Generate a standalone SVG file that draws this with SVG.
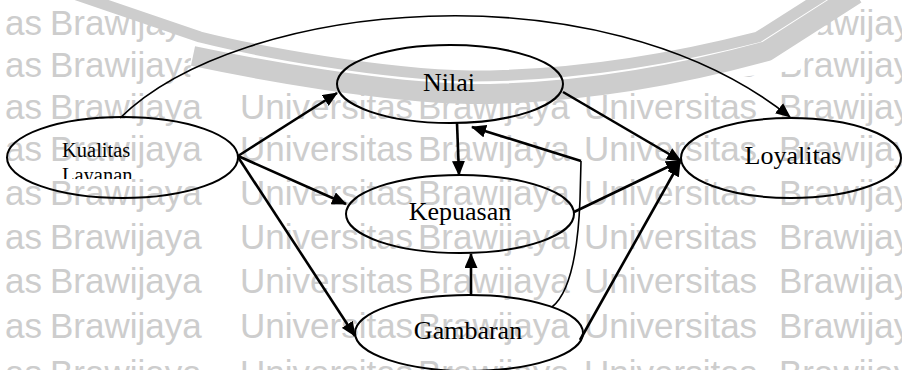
<svg xmlns="http://www.w3.org/2000/svg" width="902" height="370" viewBox="0 0 902 370">
<style>
.wm{font-family:"Liberation Sans",Arial,sans-serif;font-size:35px;fill:#cdcdcd}
.band{fill:none;stroke:#cdcdcd;stroke-linejoin:round}
.node ellipse{fill:none;stroke:#000;stroke-width:2}
.lbl{font-family:"Liberation Serif","Times New Roman",serif;font-size:26px;fill:#000;text-anchor:middle}
.lbls{font-family:"Liberation Serif","Times New Roman",serif;font-size:20.5px;fill:#000}
.edge{fill:none;stroke:#000;stroke-width:2.6}
.thin{stroke-width:1.6}
</style>
<defs>
<marker id="ah" markerUnits="userSpaceOnUse" markerWidth="16" markerHeight="13" refX="14" refY="6.5" orient="auto"><path d="M0,0 L15,6.5 L0,13 Z" fill="#000"/></marker>
<clipPath id="kclip"><rect x="0" y="0" width="902" height="179"/></clipPath>
</defs>
<rect width="902" height="370" fill="#fff"/>
<g id="watermark">
<text class="wm" y="35"><tspan x="5">as</tspan><tspan x="50">Brawijaya</tspan><tspan x="240">Universitas</tspan><tspan x="418">Brawijaya</tspan><tspan x="584">Universitas</tspan><tspan x="779">Brawijay</tspan></text>
<text class="wm" y="77"><tspan x="5">as</tspan><tspan x="50">Brawijaya</tspan><tspan x="240">Universitas</tspan><tspan x="418">Brawijaya</tspan><tspan x="584">Universitas</tspan><tspan x="779">Brawijay</tspan></text>
<text class="wm" y="119"><tspan x="5">as</tspan><tspan x="50">Brawijaya</tspan><tspan x="240">Universitas</tspan><tspan x="418">Brawijaya</tspan><tspan x="584">Universitas</tspan><tspan x="779">Brawijay</tspan></text>
<text class="wm" y="161"><tspan x="5">as</tspan><tspan x="50">Brawijaya</tspan><tspan x="240">Universitas</tspan><tspan x="418">Brawijaya</tspan><tspan x="584">Universitas</tspan><tspan x="779">Brawijay</tspan></text>
<text class="wm" y="205"><tspan x="5">as</tspan><tspan x="50">Brawijaya</tspan><tspan x="240">Universitas</tspan><tspan x="418">Brawijaya</tspan><tspan x="584">Universitas</tspan><tspan x="779">Brawijay</tspan></text>
<text class="wm" y="249"><tspan x="5">as</tspan><tspan x="50">Brawijaya</tspan><tspan x="240">Universitas</tspan><tspan x="418">Brawijaya</tspan><tspan x="584">Universitas</tspan><tspan x="779">Brawijay</tspan></text>
<text class="wm" y="293"><tspan x="5">as</tspan><tspan x="50">Brawijaya</tspan><tspan x="240">Universitas</tspan><tspan x="418">Brawijaya</tspan><tspan x="584">Universitas</tspan><tspan x="779">Brawijay</tspan></text>
<text class="wm" y="338"><tspan x="5">as</tspan><tspan x="50">Brawijaya</tspan><tspan x="240">Universitas</tspan><tspan x="418">Brawijaya</tspan><tspan x="584">Universitas</tspan><tspan x="779">Brawijay</tspan></text>
<text class="wm" y="385"><tspan x="5">as</tspan><tspan x="50">Brawijaya</tspan><tspan x="240">Universitas</tspan><tspan x="418">Brawijaya</tspan><tspan x="584">Universitas</tspan><tspan x="779">Brawijay</tspan></text>
<path d="M66,-10 L192,32 L190,86 L360,94 L470,97 L580,93 L700,82 L800,70 L814,40 L844,-10 Z" fill="#fff"/>
<path class="band" stroke-width="11" d="M74,-6 L200,37 C260,52 380,74 470,76 C580,76 680,57 758,37 L832,-10"/>
<path class="band" stroke-width="20" d="M193,56 C260,70 380,92 470,94 C580,94 680,75 767,51 L856,-6"/>
</g>
<g id="connectors">
<path class="edge thin" d="M120,118 C240,0 600,-35 790,117" marker-end="url(#ah)"/>
<path class="edge" d="M238,156 L337,93" marker-end="url(#ah)"/>
<path class="edge" d="M238,156 L346,204" marker-end="url(#ah)"/>
<path class="edge" d="M238,157 L355,336" marker-end="url(#ah)"/>
<path class="edge" d="M457,123 L459,175" marker-end="url(#ah)"/>
<path class="edge" d="M471,295 L471,254" marker-end="url(#ah)"/>
<path class="edge thin" d="M552,307 C571,292 578,250 580,200 L581,161"/>
<path class="edge" d="M581,161 L472,127" marker-end="url(#ah)"/>
<path class="edge" d="M563,92 L681,161" marker-end="url(#ah)"/>
<path class="edge" d="M574,212 L680,161" marker-end="url(#ah)"/>
<path class="edge" d="M580,340 L680,162" marker-end="url(#ah)"/>
</g>
<g id="node-kualitas" class="node">
<ellipse cx="122.5" cy="157.5" rx="115.5" ry="40.5"/>
<g clip-path="url(#kclip)"><text class="lbls" x="62" y="157">Kualitas</text><text class="lbls" x="62" y="181.5">Layanan</text></g>
</g>
<g id="node-nilai" class="node">
<ellipse cx="450" cy="84" rx="113" ry="39"/>
<text class="lbl" x="449" y="91">Nilai</text>
</g>
<g id="node-kepuasan" class="node">
<ellipse cx="460" cy="214" rx="114" ry="39"/>
<text class="lbl" x="460" y="220">Kepuasan</text>
</g>
<g id="node-gambaran" class="node">
<ellipse cx="469" cy="333" rx="114" ry="38"/>
<text class="lbl" x="468" y="339">Gambaran</text>
</g>
<g id="node-loyalitas" class="node">
<ellipse cx="791" cy="158" rx="110" ry="40"/>
<text class="lbl" x="793" y="164">Loyalitas</text>
</g>
</svg>
